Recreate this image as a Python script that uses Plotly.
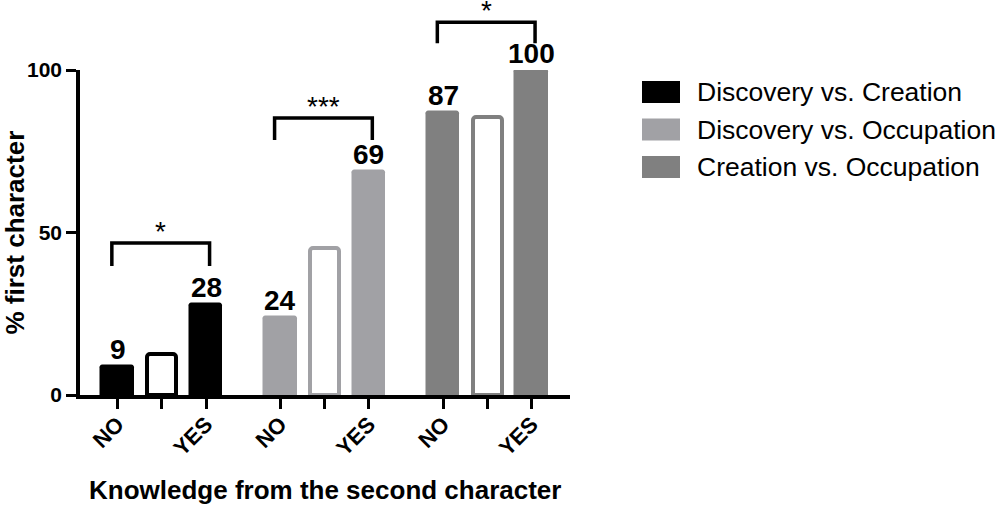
import plotly.graph_objects as go

# data
groups = ["Discovery vs. Creation", "Discovery vs. Occupation", "Creation vs. Occupation"]
no_values = [9, 24, 87]
mid_values = [12.6, 45.2, 85.4]      # hollow (unlabelled) middle bars
yes_values = [28, 69, 100]
tick_labels = ["NO", "", "YES"]
sig_labels = ["*", "***", "*"]
bracket_top = [46.8, 85.2, 114.7]
bracket_foot = [39.7, 78.5, 108.2]

colors = ["#000000", "#a1a1a5", "#808080"]
FONT = "Liberation Sans, Arial, sans-serif"

# page geometry (px)
W, H = 1000, 505
L, T = 80, 70
PW, PH = 490, 325
R, B = W - L - PW, H - T - PH
GROUP_STEP = 3.68


def px_x(px):
    return (px - L) / PW


def px_y(py):
    return (T + PH - py) / PH


fig = go.Figure()

tickvals, ticktext = [], []
for g, name in enumerate(groups):
    pos = [g * GROUP_STEP + i for i in range(3)]
    vals = [no_values[g], mid_values[g], yes_values[g]]
    c = colors[g]
    fig.add_trace(go.Bar(
        x=pos, y=vals,
        width=[0.735, 0.655, 0.735],
        marker=dict(color=[c, "white", c],
                    line=dict(color=c, width=[1.5, 4, 1.5]),
                    cornerradius=3),
        showlegend=False, hoverinfo="skip",
    ))
    tickvals += pos
    ticktext += tick_labels

    # value labels on the filled bars
    for p, v in ((pos[0], no_values[g]), (pos[2], yes_values[g])):
        fig.add_annotation(x=p, y=v, text=str(v), showarrow=False,
                           yanchor="bottom", yshift=-1,
                           font=dict(family=FONT, size=28, color="black", weight="bold"))

    # significance bracket
    x0, x1 = pos[0] - 0.13, pos[2] + 0.08
    fig.add_shape(type="path",
                  path=f"M {x0},{bracket_foot[g] / 100} L {x0},{bracket_top[g] / 100} "
                       f"L {x1},{bracket_top[g] / 100} L {x1},{bracket_foot[g] / 100}",
                  xref="x", yref="paper",
                  line=dict(color="black", width=3.5))
    fig.add_annotation(x=(x0 + x1) / 2, y=bracket_top[g] / 100, yref="paper",
                       text=sig_labels[g], showarrow=False,
                       yanchor="bottom", yshift=-6,
                       font=dict(family=FONT, size=28, color="black"))

# manual legend with wide swatches
row_y = [92, 129.5, 167]
for g, name in enumerate(groups):
    fig.add_shape(type="rect", xref="paper", yref="paper",
                  x0=px_x(642), x1=px_x(680),
                  y0=px_y(row_y[g] + 11), y1=px_y(row_y[g] - 11),
                  fillcolor=colors[g], line=dict(width=0))
    fig.add_annotation(xref="paper", yref="paper", x=px_x(695), y=px_y(row_y[g]),
                       xanchor="left", yanchor="middle", text=name, showarrow=False,
                       font=dict(family=FONT, size=26.5, color="black"))

# axis titles
fig.add_annotation(xref="paper", yref="paper", x=0.5, y=px_y(490),
                   text="Knowledge from the second character", showarrow=False,
                   xanchor="center", yanchor="middle",
                   font=dict(family=FONT, size=26, color="black", weight="bold"))
fig.add_annotation(xref="paper", yref="paper", x=px_x(14), y=0.5, textangle=-90,
                   text="% first character", showarrow=False,
                   xanchor="center", yanchor="middle",
                   font=dict(family=FONT, size=26, color="black", weight="bold"))

fig.update_layout(
    width=W, height=H,
    margin=dict(l=L, r=R, t=T, b=B, autoexpand=False),
    plot_bgcolor="white", paper_bgcolor="white",
    bargap=0,
    font=dict(family=FONT, color="black"),
)
fig.update_xaxes(
    range=[-0.85, 2 * GROUP_STEP + 2 + 0.87],
    tickvals=tickvals, ticktext=ticktext, tickangle=-45,
    tickfont=dict(family=FONT, size=22, color="black", weight="bold"),
    ticklabelstandoff=-6,
    ticks="outside", ticklen=10, tickwidth=3, tickcolor="black",
    showline=True, linecolor="black", linewidth=3.5,
    showgrid=False, zeroline=False,
)
fig.update_yaxes(
    range=[0, 100], tickvals=[0, 50, 100],
    tickfont=dict(family=FONT, size=21, color="black", weight="bold"),
    ticks="outside", ticklen=10, tickwidth=3, tickcolor="black",
    showline=True, linecolor="black", linewidth=3.5,
    showgrid=False, zeroline=False,
)

# drop the default body margin so the figure sits flush with the window
fig.write_html("out.html", config={"displayModeBar": False},
               post_script="document.body.style.margin = '0';")
